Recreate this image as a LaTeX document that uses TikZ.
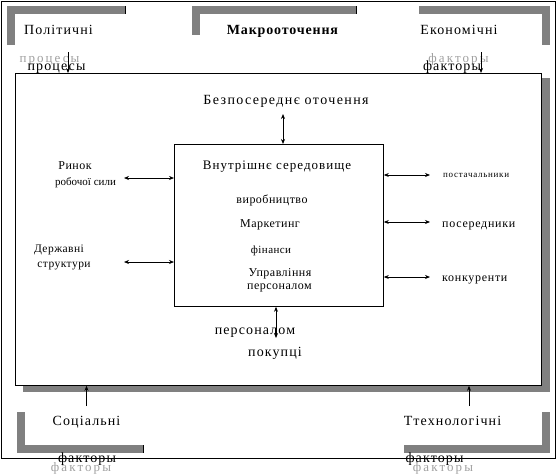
\documentclass[tikz,border=0pt]{standalone}
\usepackage{fontspec}
\setmainfont{Liberation Serif}
\usetikzlibrary{arrows.meta}
\definecolor{brk}{HTML}{808080}
\definecolor{ghost}{HTML}{A0A0A0}
\tikzset{
  big/.style={inner sep=0pt, anchor=base, font=\fontsize{14}{16}\selectfont\addfontfeature{LetterSpace=8}},
  med/.style={inner sep=0pt, anchor=base, font=\fontsize{12}{14}\selectfont\addfontfeature{LetterSpace=4}},
  ghosttxt/.style={inner sep=0pt, anchor=base, text=ghost, font=\fontsize{13}{15}\selectfont\addfontfeature{LetterSpace=16}},
  bar/.style={fill=brk, draw=none},
  dbl/.style={{Stealth[length=5pt,width=4pt]}-{Stealth[length=5pt,width=4pt]}, line width=0.7pt},
  sgl/.style={-{Stealth[length=5pt,width=4pt]}, line width=0.7pt},
}
\begin{document}
\begin{tikzpicture}[x=1pt,y=-1pt]
\useasboundingbox (0,0) rectangle (557,474);
% outer frame
\draw[line width=0.8pt] (1.5,1.5) rectangle (555.5,458);
% main box with shadow
\fill[brk] (23,78) rectangle (550,392);
\node[draw, fill=white, line width=0.8pt, minimum width=526pt, minimum height=312pt, inner sep=0pt, anchor=north west] (main) at (15,73) {};
% inner box
\node[draw, fill=white, line width=0.8pt, minimum width=209pt, minimum height=162pt, inner sep=0pt, anchor=north west] (inner) at (174,144) {};

% top-left bracket
\fill[bar] (7,6) rectangle (125,14);
\fill[bar] (7,6) rectangle (15,45);
\draw[line width=0.8pt] (125,6) -- (125,14);
\node[big] (pol) at (58.5,34) {Політичні};
% top-middle bracket
\fill[bar] (192,6) rectangle (356,14);
\fill[bar] (192,6) rectangle (200,35);
\draw[line width=0.8pt] (356,6) -- (356,14);
\node[big, font=\fontsize{14}{16}\selectfont\bfseries\addfontfeature{LetterSpace=6}] (macro) at (282.5,34) {Макрооточення};
% top-right bracket
\fill[bar] (419,6) rectangle (550,14);
\fill[bar] (542,6) rectangle (550,45);
\node[big] (eco) at (459,34) {Економічні};

% top ghosts and arrows
\node[ghosttxt] (procg) at (49.5,62) {процесы};
\node[big] (proc) at (56.5,70) {процесы};
\coordinate (pa) at (68,52);
\draw[sgl] (pa) -- (pa |- main.north);
\node[ghosttxt] (faktg1) at (458.5,62) {факторы};
\node[big] (fakt1) at (452,70) {факторы};
\coordinate (ea) at (481,52);
\draw[sgl] (ea) -- (ea |- main.north);

% bottom-left bracket
\fill[bar] (17,412) rectangle (25,453);
\fill[bar] (17,445) rectangle (143,453);
\draw[line width=0.8pt] (143,445) -- (143,453);
\node[big] (soc) at (86.5,425) {Соціальні};
\coordinate (sa) at (86.5,406);
\draw[sgl] (sa) -- (sa |- main.south);
\node[big] (fakt2) at (87,462) {факторы};
\node[ghosttxt] (faktg2) at (81,471) {факторы};
% bottom-right bracket
\fill[bar] (542,412) rectangle (550,453);
\fill[bar] (404,445) rectangle (550,453);
\node[big] (tech) at (452.5,425) {Ттехнологічні};
\coordinate (ta) at (469,406);
\draw[sgl] (ta) -- (ta |- main.south);
\node[big] (fakt3) at (434.5,462) {факторы};
\node[ghosttxt] (faktg3) at (443,471) {факторы};

% immediate environment
\node[big, font=\fontsize{14}{16}\selectfont\addfontfeature{LetterSpace=10}] (imm) at (286,104) {Безпосереднє оточення};
\coordinate (ia) at (283,114);
\draw[dbl] (ia) -- (inner.north -| ia);

% inner texts
\node[big, font=\fontsize{13}{15}\selectfont\addfontfeature{LetterSpace=8}] (in1) at (277,169) {Внутрішнє середовище};
\node[med] (in2) at (272,203) {виробництво};
\node[med] (in3) at (270,227) {Маркетинг};
\node[med, font=\fontsize{11}{13}\selectfont\addfontfeature{LetterSpace=4}] (in4) at (271,253) {фінанси};
\node[med] (in5) at (280,276) {Управління};
\node[med] (in6) at (279.5,289) {персоналом};

% left labels
\node[med] (rin) at (75,169) {Ринок};
\node[med, font=\fontsize{11}{13}\selectfont] (rob) at (85.5,185) {робочої сили};
\coordinate (la) at (124,178);
\draw[dbl] (la) -- (la -| inner.west);
\node[med, font=\fontsize{11.5}{13}\selectfont\addfontfeature{LetterSpace=4}] (der) at (59,252) {Державні};
\node[med, font=\fontsize{11.5}{13}\selectfont\addfontfeature{LetterSpace=4}] (str) at (64,267) {структури};
\coordinate (lb) at (124,262);
\draw[dbl] (lb) -- (lb -| inner.west);

% right labels
\coordinate (ra) at (430,175);
\draw[dbl] (ra -| inner.east) -- (ra);
\node[med, anchor=base west, font=\fontsize{9}{10}\selectfont\addfontfeature{LetterSpace=8}] (post) at (443,177) {постачальники};
\coordinate (rb) at (430,222);
\draw[dbl] (rb -| inner.east) -- (rb);
\node[med, anchor=base west, font=\fontsize{12}{14}\selectfont\addfontfeature{LetterSpace=6}] (pos) at (442,227) {посередники};
\coordinate (rc) at (430,277);
\draw[dbl] (rc -| inner.east) -- (rc);
\node[med, anchor=base west, font=\fontsize{12}{14}\selectfont\addfontfeature{LetterSpace=6}] (kon) at (442,281) {конкуренти};

% below inner
\coordinate (ba) at (276,338);
\draw[dbl] (inner.south -| ba) -- (ba);
\node[big] (pers) at (255,334) {персоналом};
\node[big] (pok) at (275,356) {покупці};
\end{tikzpicture}
\end{document}
